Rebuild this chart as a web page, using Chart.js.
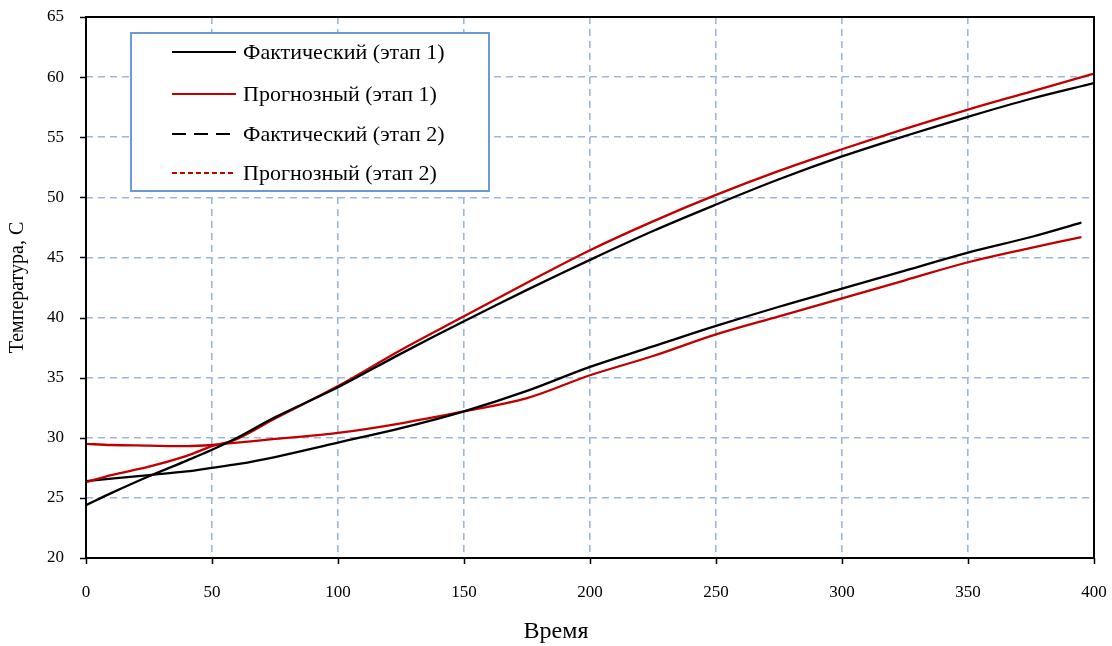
<!DOCTYPE html>
<html>
<head>
<meta charset="utf-8">
<script src="https://cdn.jsdelivr.net/npm/chart.js@4/dist/chart.umd.min.js"></script>
<style>
  html, body { margin: 0; padding: 0; background: #fff; }
  #wrap { width: 1112px; height: 646px; }
</style>
</head>
<body>
<div id="wrap"><canvas id="c" width="1112" height="646"></canvas></div>
<script>
// Time axis samples
const time1 = [0, 10, 25, 40, 50, 60, 75, 100, 125, 150, 175, 200, 225, 250, 275, 300, 325, 350, 375, 400];
const time2 = [0, 10, 25, 40, 50, 60, 75, 100, 125, 150, 175, 200, 225, 250, 275, 300, 325, 350, 375, 395];

// Temperatures, stage 1
const actual1   = [24.4, 25.4, 26.8, 28.1, 29.0, 30.0, 31.7, 34.2, 37.0, 39.7, 42.3, 44.8, 47.2, 49.4, 51.5, 53.4, 55.1, 56.7, 58.2, 59.5];
const forecast1 = [26.3, 26.9, 27.6, 28.5, 29.3, 29.9, 31.6, 34.3, 37.3, 40.1, 42.9, 45.6, 48.0, 50.2, 52.2, 54.0, 55.7, 57.3, 58.8, 60.3];

// Temperatures, stage 2
const actual2   = [26.4, 26.6, 26.9, 27.2, 27.5, 27.8, 28.4, 29.6, 30.8, 32.2, 33.9, 35.9, 37.6, 39.3, 40.9, 42.4, 43.9, 45.4, 46.7, 47.9];
const forecast2 = [29.5, 29.4, 29.35, 29.3, 29.4, 29.6, 29.9, 30.4, 31.2, 32.2, 33.3, 35.2, 36.8, 38.6, 40.1, 41.6, 43.1, 44.6, 45.8, 46.7];

const seriesNames = ['Фактический (этап 1)', 'Прогнозный (этап 1)', 'Фактический (этап 2)', 'Прогнозный (этап 2)'];
const xTicks = [0, 50, 100, 150, 200, 250, 300, 350, 400];
const yTicks = [20, 25, 30, 35, 40, 45, 50, 55, 60, 65];
const xTitle = 'Время';
const yTitle = 'Температура, С';

const BLACK = '#000000';
const RED = '#c00000';
const GRID = '#9ab8dc';
const FONT = '"Liberation Serif", "Times New Roman", serif';

const pts = (xs, ys) => xs.map((x, i) => ({ x: x, y: ys[i] }));

// legend swatch dash per series
const legendDash = [[], [], [14, 8], [5, 3]];

// Frame, black tick marks, x-axis title and the in-plot legend
const decor = {
  id: 'decor',
  afterDraw(chart) {
    const { ctx, chartArea: a, scales } = chart;
    ctx.save();
    // tick marks
    ctx.strokeStyle = '#000';
    ctx.lineWidth = 1.5;
    ctx.beginPath();
    xTicks.forEach(v => {
      const px = Math.round(scales.x.getPixelForValue(v)) + 0.5;
      ctx.moveTo(px, a.bottom); ctx.lineTo(px, a.bottom + 6);
    });
    yTicks.forEach(v => {
      const py = Math.round(scales.y.getPixelForValue(v)) + 0.5;
      ctx.moveTo(a.left - 6, py); ctx.lineTo(a.left, py);
    });
    ctx.stroke();
    // frame
    ctx.lineWidth = 2;
    ctx.strokeRect(a.left, a.top, a.right - a.left, a.bottom - a.top);

    // x-axis title, centred on the canvas
    ctx.fillStyle = '#000';
    ctx.font = '24px ' + FONT;
    ctx.textAlign = 'center';
    ctx.textBaseline = 'middle';
    ctx.fillText(xTitle, chart.width / 2, 632);

    // legend box
    const bx = 131, by = 33, bw = 358, bh = 158;
    ctx.fillStyle = '#fff';
    ctx.fillRect(bx, by, bw, bh);
    ctx.strokeStyle = '#6a9ad8';
    ctx.lineWidth = 2;
    ctx.strokeRect(bx, by, bw, bh);
    const rows = [52, 94, 134, 173];
    chart.data.datasets.forEach((ds, i) => {
      const y = rows[i];
      ctx.beginPath();
      ctx.setLineDash(legendDash[i]);
      ctx.strokeStyle = ds.borderColor;
      ctx.lineWidth = 2;
      ctx.moveTo(172, y); ctx.lineTo(236, y);
      ctx.stroke();
      ctx.setLineDash([]);
      ctx.fillStyle = '#000';
      ctx.font = '22px ' + FONT;
      ctx.textBaseline = 'middle';
      ctx.textAlign = 'left';
      ctx.fillText(ds.label, 243, y + 1);
    });
    ctx.restore();
  }
};

const mkSet = (label, xs, ys, color) => ({
  label: label,
  data: pts(xs, ys),
  borderColor: color,
  backgroundColor: color,
  borderWidth: 2.3,
  pointRadius: 0,
  tension: 0.35,
  fill: false
});

new Chart(document.getElementById('c'), {
  type: 'line',
  data: {
    datasets: [
      mkSet(seriesNames[0], time1, actual1, BLACK),
      mkSet(seriesNames[1], time1, forecast1, RED),
      mkSet(seriesNames[2], time2, actual2, BLACK),
      mkSet(seriesNames[3], time2, forecast2, RED)
    ]
  },
  options: {
    responsive: false,
    animation: false,
    devicePixelRatio: 1,
    layout: { padding: { top: 17, right: 18, left: 0, bottom: 0 } },
    plugins: { legend: { display: false }, tooltip: { enabled: false } },
    scales: {
      x: {
        type: 'linear',
        min: 0, max: 400,
        afterBuildTicks: s => { s.ticks = xTicks.map(v => ({ value: v })); },
        afterFit: s => { s.height = 88; s.paddingLeft = 0; s.paddingRight = 0; },
        border: { display: false, dash: [7, 5] },
        grid: {
          drawTicks: false,
          color: c => (c.tick && (c.tick.value === 0 || c.tick.value === 400)) ? 'rgba(0,0,0,0)' : GRID,
          lineWidth: 1.6
        },
        ticks: { color: '#000', padding: 24, font: { family: FONT, size: 17 }, maxRotation: 0 },
        title: { display: false }
      },
      y: {
        min: 20, max: 65,
        afterBuildTicks: s => { s.ticks = yTicks.map(v => ({ value: v })); },
        afterFit: s => { s.width = 86; s.paddingTop = 0; s.paddingBottom = 0; },
        border: { display: false, dash: [7, 5] },
        grid: {
          drawTicks: false,
          color: c => (c.tick && (c.tick.value === 20 || c.tick.value === 65)) ? 'rgba(0,0,0,0)' : GRID,
          lineWidth: 1.6
        },
        ticks: { color: '#000', padding: 22, font: { family: FONT, size: 17 } },
        title: { display: true, text: yTitle, color: '#000', font: { family: FONT, size: 20 }, padding: { top: 6, bottom: 0 } }
      }
    }
  },
  plugins: [decor]
});
</script>
</body>
</html>
